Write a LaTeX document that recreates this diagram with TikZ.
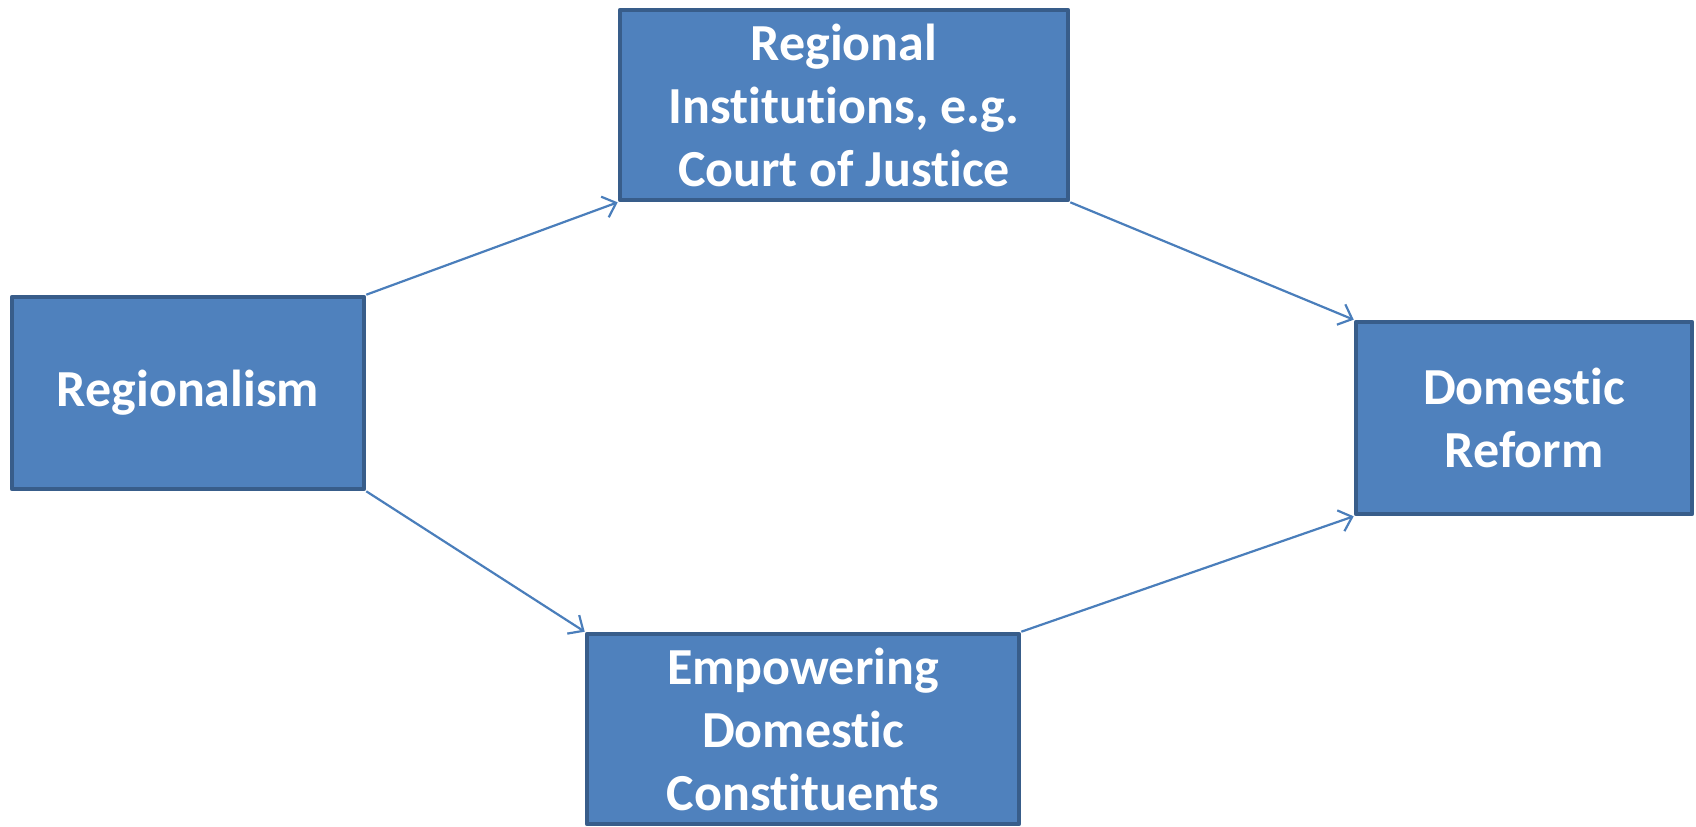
\documentclass[tikz,border=0pt]{standalone}
\usepackage{fontspec}
\setmainfont{Carlito}[Ligatures=NoCommon]
\usetikzlibrary{arrows.meta}
\definecolor{boxfill}{HTML}{4F81BD}
\definecolor{boxline}{HTML}{385D8A}
\definecolor{arrowblue}{HTML}{4A7EBB}
\begin{document}
\begin{tikzpicture}[x=0.5pt,y=-0.5pt,line join=round,
	blockbox/.style={draw=boxline,fill=boxfill,line width=2.3pt,text=white,align=center,
		font=\fontsize{26}{31.5}\selectfont\bfseries,inner sep=0pt},
	link/.style={draw=arrowblue,line width=1.1pt,-{Straight Barb[length=6pt,width=11pt]}}]
			\useasboundingbox (0,0) rectangle (1696,826);
			\node[blockbox,minimum width=176pt,minimum height=96pt] (regionalism) at (188,393) {Regionalism};
			\node[blockbox,minimum width=224pt,minimum height=95pt] (institutions) at (844,105) {Regional\\Institutions, e.g.\\Court of Justice};
			\node[blockbox,minimum width=168pt,minimum height=96pt] (reform) at (1524,418) {Domestic\\Reform};
			\node[blockbox,minimum width=216pt,minimum height=95pt] (empowering) at (803,729) {Empowering\\Domestic\\Constituents};
			\draw[link] (regionalism.north east)--(institutions.south west);
			\draw[link] (regionalism.south east)--(empowering.north west);
			\draw[link] (institutions.south east)--(reform.north west);
			\draw[link] (empowering.north east)--(reform.south west);
			\end{tikzpicture}
\end{document}
